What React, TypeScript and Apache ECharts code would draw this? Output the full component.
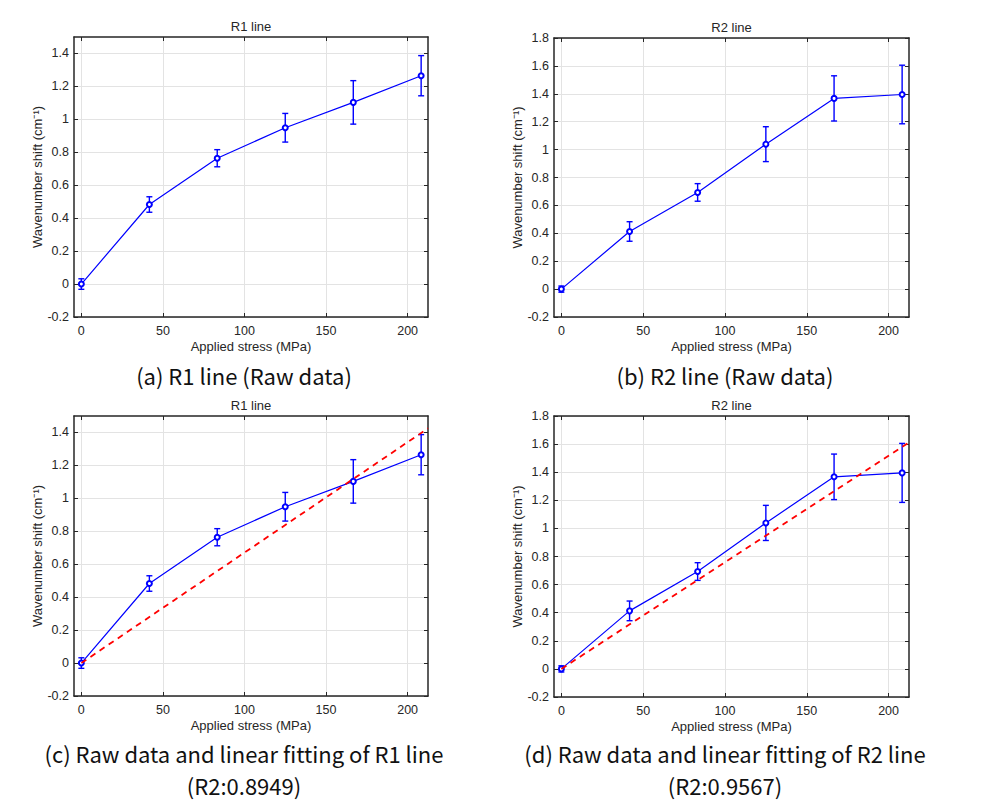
import React, { useEffect, useRef } from "react";
import * as echarts from "echarts";

// ---- data ----
const stress = [0, 41.7, 83.3, 125, 166.7, 208.3];
const r1Mean = [0, 0.483, 0.764, 0.949, 1.103, 1.265];
const r1Err = [0.032, 0.047, 0.052, 0.087, 0.132, 0.122];
const r2Mean = [0, 0.413, 0.693, 1.039, 1.367, 1.395];
const r2Err = [0.022, 0.07, 0.063, 0.125, 0.162, 0.21];
const r1FitX = [0, 212.5];
const r1FitY = [0, 1.425];
const r2FitX = [0, 212.5];
const r2FitY = [0, 1.612];

const xTicks = [0, 50, 100, 150, 200];
const r1YTicks = [-0.2, 0, 0.2, 0.4, 0.6, 0.8, 1, 1.2, 1.4];
const r2YTicks = [-0.2, 0, 0.2, 0.4, 0.6, 0.8, 1, 1.2, 1.4, 1.6, 1.8];

const panelTitles = ["R1 line", "R2 line", "R1 line", "R2 line"];
const captions = [
  ["(a) R1 line (Raw data)"],
  ["(b) R2 line (Raw data)"],
  ["(c) Raw data and linear fitting of R1 line", "(R2:0.8949)"],
  ["(d) Raw data and linear fitting of R2 line", "(R2:0.9567)"],
];

const xLabel = "Applied stress (MPa)";
const yLabel = "Wavenumber shift (cm\u207B\u00B9)";

const BLUE = "#0000ff";
const RED = "#ff0000";
const AX = "#262626";
const GRIDC = "#e3e3e3";
const FONT = "Liberation Sans";
const CAPFONT = "Noto Sans CJK KR";

const panels = [
  { left: 74, top: 37, width: 354, height: 280, yMin: -0.2, yMax: 1.5, yTicks: r1YTicks, mean: r1Mean, err: r1Err, fit: null as null | [number[], number[]] },
  { left: 554, top: 38, width: 355, height: 279, yMin: -0.2, yMax: 1.8, yTicks: r2YTicks, mean: r2Mean, err: r2Err, fit: null as null | [number[], number[]] },
  { left: 74, top: 416, width: 354, height: 280, yMin: -0.2, yMax: 1.5, yTicks: r1YTicks, mean: r1Mean, err: r1Err, fit: [r1FitX, r1FitY] as [number[], number[]] },
  { left: 554, top: 416, width: 355, height: 281, yMin: -0.2, yMax: 1.8, yTicks: r2YTicks, mean: r2Mean, err: r2Err, fit: [r2FitX, r2FitY] as [number[], number[]] },
];

const X_MIN = -4.5;
const X_MAX = 212.5;

function buildOption() {
  const grid: any[] = [];
  const xAxis: any[] = [];
  const yAxis: any[] = [];
  const series: any[] = [];
  const graphic: any[] = [];

  panels.forEach((p, i) => {
    grid.push({ left: p.left, top: p.top, width: p.width, height: p.height, containLabel: false });
    const lineStyle = { color: AX, width: 1.5 };
    xAxis.push({
      type: "value",
      gridIndex: i,
      position: "bottom",
      min: X_MIN,
      max: X_MAX,
      name: xLabel,
      nameLocation: "middle",
      nameGap: 23,
      nameTextStyle: { fontFamily: FONT, fontSize: 13, color: AX },
      axisLine: { show: true, onZero: false, lineStyle },
      axisTick: { show: true, inside: true, length: 4, customValues: xTicks, lineStyle: { color: AX, width: 1 } },
      axisLabel: { show: true, customValues: xTicks, margin: 7, fontFamily: FONT, fontSize: 12.5, color: AX },
      splitLine: { show: true, lineStyle: { color: GRIDC, width: 1 } },
    });
    xAxis.push({
      type: "value",
      gridIndex: i,
      position: "top",
      min: X_MIN,
      max: X_MAX,
      axisLine: { show: true, onZero: false, lineStyle },
      axisTick: { show: true, inside: true, length: 4, customValues: xTicks, lineStyle: { color: AX, width: 1 } },
      axisLabel: { show: false },
      splitLine: { show: false },
    });
    yAxis.push({
      type: "value",
      gridIndex: i,
      position: "left",
      min: p.yMin,
      max: p.yMax,
      name: yLabel,
      nameLocation: "middle",
      nameGap: 29,
      nameTextStyle: { fontFamily: FONT, fontSize: 13, color: AX },
      axisLine: { show: true, onZero: false, lineStyle },
      axisTick: { show: true, inside: true, length: 4, customValues: p.yTicks, lineStyle: { color: AX, width: 1 } },
      axisLabel: { show: true, customValues: p.yTicks, margin: 5, fontFamily: FONT, fontSize: 12.5, color: AX },
      splitLine: { show: true, lineStyle: { color: GRIDC, width: 1 } },
    });
    yAxis.push({
      type: "value",
      gridIndex: i,
      position: "right",
      min: p.yMin,
      max: p.yMax,
      axisLine: { show: true, onZero: false, lineStyle },
      axisTick: { show: true, inside: true, length: 4, customValues: p.yTicks, lineStyle: { color: AX, width: 1 } },
      axisLabel: { show: false },
      splitLine: { show: false },
    });

    const xIdx = i * 2;
    const yIdx = i * 2;
    const pts = stress.map((x, k) => [x, p.mean[k], p.err[k]]);

    series.push({
      type: "custom",
      xAxisIndex: xIdx,
      yAxisIndex: yIdx,
      data: pts,
      encode: { x: 0, y: 1 },
      clip: false,
      z: 3,
      renderItem: (params: any, api: any) => {
        const x = api.value(0);
        const y = api.value(1);
        const e = api.value(2);
        const t = api.coord([x, y + e]);
        const b = api.coord([x, y - e]);
        const w = 3;
        const st = { stroke: BLUE, lineWidth: 1.4 };
        return {
          type: "group",
          children: [
            { type: "line", shape: { x1: t[0], y1: t[1], x2: b[0], y2: b[1] }, style: st },
            { type: "line", shape: { x1: t[0] - w, y1: t[1], x2: t[0] + w, y2: t[1] }, style: st },
            { type: "line", shape: { x1: b[0] - w, y1: b[1], x2: b[0] + w, y2: b[1] }, style: st },
          ],
        };
      },
    });

    series.push({
      type: "line",
      xAxisIndex: xIdx,
      yAxisIndex: yIdx,
      data: stress.map((x, k) => [x, p.mean[k]]),
      symbol: "emptyCircle",
      symbolSize: 5,
      showSymbol: true,
      lineStyle: { color: BLUE, width: 1.2 },
      itemStyle: { color: BLUE, borderColor: BLUE, borderWidth: 1.2 },
      z: 4,
    });

    if (p.fit) {
      const [fx, fy] = p.fit;
      series.push({
        type: "line",
        xAxisIndex: xIdx,
        yAxisIndex: yIdx,
        data: fx.map((x, k) => [x, fy[k]]),
        symbol: "none",
        lineStyle: { color: RED, width: 1.8, type: [6, 5] },
        z: 5,
      });
    }

    graphic.push({
      type: "text",
      x: p.left + p.width / 2,
      y: p.top - 11,
      style: {
        text: panelTitles[i],
        fontFamily: FONT,
        fontSize: 13,
        fill: AX,
        align: "center",
        verticalAlign: "middle",
      },
    });

    const cx = i % 2 === 0 ? 244 : 725;
    const cy = i < 2 ? 375 : 753;
    captions[i].forEach((line, li) => {
      graphic.push({
        type: "text",
        x: cx,
        y: cy + li * 32,
        style: {
          text: line,
          fontFamily: CAPFONT,
          fontSize: 22,
          fill: "#111111",
          align: "center",
          verticalAlign: "middle",
        },
      });
    });
  });

  return {
    animation: false,
    backgroundColor: "#ffffff",
    grid,
    xAxis,
    yAxis,
    series,
    graphic,
  };
}

export default function App() {
  const ref = useRef<HTMLDivElement>(null);
  useEffect(() => {
    if (!ref.current) return;
    const chart = echarts.init(ref.current, undefined, { renderer: "svg" });
    chart.setOption(buildOption() as any);
    return () => chart.dispose();
  }, []);
  return (
    <div
      ref={ref}
      style={{ position: "absolute", left: 0, top: 0, width: 986, height: 808, background: "#fff" }}
    />
  );
}
